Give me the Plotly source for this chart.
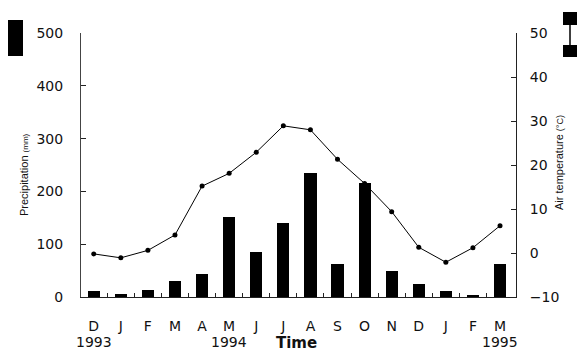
import plotly.graph_objects as go

months = ["D", "J", "F", "M", "A", "M", "J", "J", "A", "S", "O", "N", "D", "J", "F", "M"]
years = {0: "1993", 5: "1994", 15: "1995"}
precip = [11, 5, 13, 30, 43, 152, 85, 141, 234, 62, 215, 50, 24, 11, 4, 62]
temp = [-0.2, -1.1, 0.6, 4.1, 15.2, 18.1, 22.9, 28.9, 28.0, 21.3, 15.8, 9.4, 1.3, -2.1, 1.2, 6.2]

W, H = 577, 352
L, R, T, B = 81, 516, 33, 297


def px(x):
    return (x - L) / (R - L)


def py(y):
    return (B - y) / (B - T)


idx = list(range(len(months)))
font = "Liberation Sans, Arial, sans-serif"
tickfont = dict(family="DejaVu Sans, sans-serif", size=14, color="#111")

fig = go.Figure()
fig.add_trace(go.Bar(x=idx, y=precip, width=0.45, marker=dict(color="black", line=dict(width=0)),
                     yaxis="y", showlegend=False))
fig.add_trace(go.Scatter(x=idx, y=temp, mode="lines+markers", yaxis="y2",
                         line=dict(color="black", width=1),
                         marker=dict(color="black", size=5, symbol="circle"),
                         showlegend=False, cliponaxis=False))

fig.update_layout(
    width=W, height=H,
    margin=dict(l=L, r=W - R, t=T, b=H - B, autoexpand=False),
    paper_bgcolor="white", plot_bgcolor="white",
    font=dict(family=font, color="#111", size=14),
    bargap=0,
    xaxis=dict(range=[-0.47, 15.59], tickvals=idx, ticktext=months, ticks="", ticklen=0,
               showline=True, linecolor="#222", linewidth=1, showgrid=False, zeroline=False,
               ticklabelstandoff=16, tickfont=tickfont, automargin=False,
               minor=dict(tickvals=[i + 0.5 for i in idx[:-1]], ticks="inside", ticklen=4,
                          tickcolor="#222", showgrid=False)),
    yaxis=dict(range=[0, 500], dtick=100, ticks="inside", ticklen=5, tickcolor="#222",
               showline=True, linecolor="#444", linewidth=1, showgrid=False, zeroline=False,
               ticklabelstandoff=14, tickfont=tickfont, automargin=False),
    yaxis2=dict(range=[-10, 50], dtick=10, overlaying="y", side="right", ticks="inside",
                ticklen=5, tickcolor="#222", showline=True, linecolor="#222", linewidth=1,
                showgrid=False, zeroline=False, ticklabelstandoff=10, tickfont=tickfont,
                automargin=False),
)

for i, yr in years.items():
    fig.add_annotation(x=i, y=0, xref="x", yref="paper", yshift=-45, text=yr, showarrow=False,
                       font=tickfont, yanchor="middle", borderpad=0)
fig.add_annotation(x=px(296), y=0, xref="paper", yref="paper", yshift=-46, text="<b>Time</b>",
                   showarrow=False, font=dict(family="DejaVu Sans, sans-serif", size=15, color="#111"),
                   yanchor="middle", borderpad=0)
fig.add_annotation(x=px(16), y=py(175), xref="paper", yref="paper", textangle=-90,
                   text="Precipitation <span style='font-size:8px'>(mm)</span>", showarrow=False,
                   font=dict(size=11))
fig.add_annotation(x=px(567), y=py(163), xref="paper", yref="paper", textangle=-90,
                   text="Air temperature <span style='font-size:9px'>(°C)</span>", showarrow=False,
                   font=dict(size=11))

# legend-like icons
fig.add_shape(type="rect", xref="paper", yref="paper", x0=px(8), x1=px(23), y0=py(56), y1=py(20),
              fillcolor="black", line=dict(width=0))
fig.add_shape(type="rect", xref="paper", yref="paper", x0=px(563), x1=px(577), y0=py(25), y1=py(12),
              fillcolor="black", line=dict(width=0))
fig.add_shape(type="rect", xref="paper", yref="paper", x0=px(563), x1=px(577), y0=py(57), y1=py(45),
              fillcolor="black", line=dict(width=0))
fig.add_shape(type="line", xref="paper", yref="paper", x0=px(570), x1=px(570), y0=py(45), y1=py(25),
              line=dict(color="black", width=1.5))

fig.write_html("out.html", config={"displayModeBar": False},
               post_script="document.body.style.margin='0';document.body.style.overflow='hidden';")
